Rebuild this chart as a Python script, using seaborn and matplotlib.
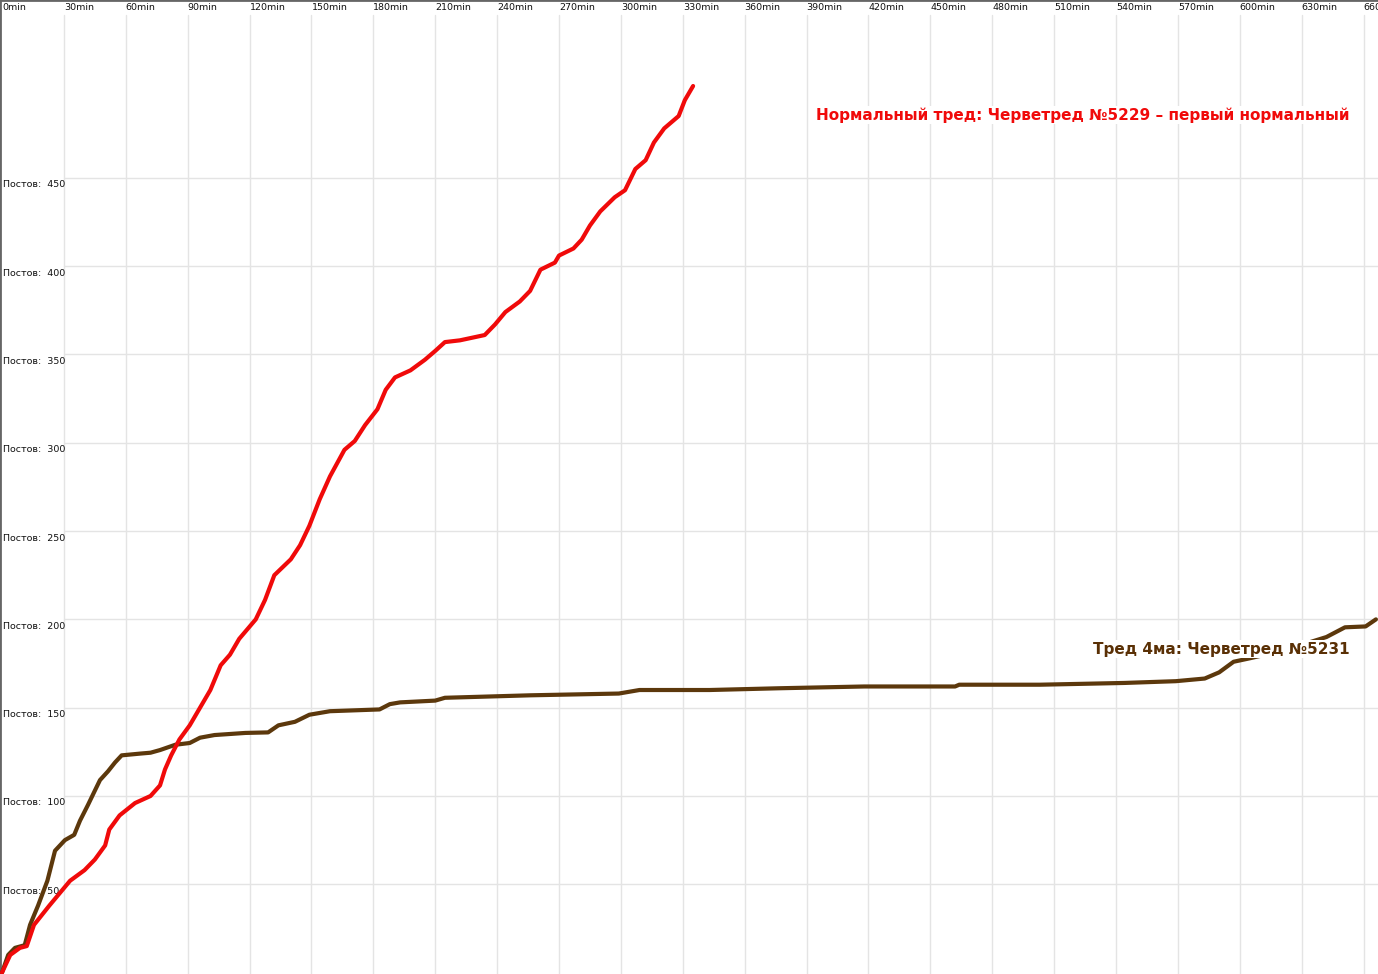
import matplotlib
matplotlib.use('Agg')
import matplotlib.pyplot as plt
import matplotlib.transforms as mtransforms
import pandas as pd
import seaborn as sns

# Thread 5229 (red): minutes since start vs. post count
red_min = [0, 4, 8.7, 12, 15.5, 23, 33, 40, 45, 50, 52, 57, 64.5, 72, 76.6, 79,
           82, 86, 91, 96, 101, 106, 110.5, 115, 123, 127.5, 132, 140, 144.5,
           149, 154, 159, 166, 171, 176, 182, 186, 190.5, 198, 205, 210, 214.7,
           222, 234, 239, 244, 251, 256, 261, 268, 270, 277, 281, 285, 290, 297,
           302, 307, 312, 316, 321, 328, 331, 335]
red_posts = [0, 10, 14, 15, 27, 38, 52, 58, 64, 72, 81, 89, 96, 100, 106, 115,
             123, 132, 140, 150, 160, 174, 180, 189, 200, 211, 225, 234, 242,
             253, 268, 281, 296, 301, 310, 319, 330, 337, 341, 347, 352, 357,
             358, 361, 367, 374, 380, 386, 398, 402, 406, 410, 415, 423, 431,
             439, 443, 455, 460, 470, 478, 485, 494, 502]

# Thread 5231 (brown)
brown_min = [0, 3, 6.3, 11, 13.6, 17.5, 22, 25.7, 30.5, 35, 37.8, 41.7, 45,
             47.5, 51.4, 54.8, 58, 67, 72, 76.6, 84, 91, 96, 103, 118, 129, 134,
             142, 149, 159, 183, 188, 193, 210, 214.7, 256, 299, 309, 343, 377,
             418, 462, 464, 503, 544, 569, 583, 590, 597, 605, 620, 642, 651,
             661, 666]
brown_posts = [0, 10, 14, 15.5, 27, 38, 52, 69, 75, 78, 86, 95, 103, 109, 114,
               119, 123, 124, 124.5, 126, 129, 130, 133, 134.5, 135.7, 136, 140,
               142, 146, 148, 149, 152, 153, 154, 155.6, 157, 158, 160, 160,
               161, 162, 162, 163, 163, 164, 165, 166.5, 170, 176, 178, 182,
               190, 195.5, 196, 200]

x_ticks = list(range(0, 690, 30))
y_ticks = list(range(50, 500, 50))

red_label = 'Нормальный тред: Черветред №5229 – первый нормальный'
brown_label = 'Тред 4ма: Черветред №5231'

red_color = '#f00a0a'
brown_color = '#5c380c'
grid_color = '#e4e4e4'

sns.set_style('white')
plt.rcParams['font.family'] = ['DejaVu Sans']

fig = plt.figure(figsize=(13.78, 9.74), dpi=100)
ax = fig.add_axes([0, 0, 1, 1])

red_df = pd.DataFrame({'min': red_min, 'posts': red_posts})
brown_df = pd.DataFrame({'min': brown_min, 'posts': brown_posts})

ax.set_xlim(-0.97, 667)
ax.set_ylim(-0.8, 550.7)

# grid lines (vertical ones start under the minute labels)
for t in x_ticks[1:]:
    ax.axvline(t, ymax=1 - 15 / 974, color=grid_color, lw=1, zorder=0)
for v in y_ticks:
    ax.axhline(v, xmin=64 / 1378, color=grid_color, lw=1, zorder=0)

sns.lineplot(data=brown_df, x='min', y='posts', color=brown_color,
             linewidth=3.0, ax=ax, zorder=3)
sns.lineplot(data=red_df, x='min', y='posts', color=red_color,
             linewidth=3.0, ax=ax, zorder=4)

ax.set_xticks([])
ax.set_yticks([])
ax.set_xlabel('')
ax.set_ylabel('')

for side in ['right', 'bottom']:
    ax.spines[side].set_visible(False)
for side in ['left', 'top']:
    ax.spines[side].set_color('#666666')
    ax.spines[side].set_linewidth(2)

# minute labels along the top
trans_x = mtransforms.blended_transform_factory(ax.transData, ax.transAxes)
for t in x_ticks:
    ax.annotate(f'{t}min', xy=(t, 1), xycoords=trans_x, xytext=(0, -8),
                textcoords='offset pixels', ha='left', va='center',
                fontsize=6.8, color='#111111', zorder=1)

# post labels along the left
trans_y = mtransforms.blended_transform_factory(ax.transAxes, ax.transData)
for v in y_ticks:
    ax.annotate(f'Постов:  {v}', xy=(0, v), xycoords=trans_y, xytext=(3, -7),
                textcoords='offset pixels', ha='left', va='center',
                fontsize=6.8, color='#111111', zorder=1)

ax.text(653.4, 485.6, red_label, color=red_color, fontsize=11,
        fontweight='bold', ha='right', va='center', zorder=5,
        bbox=dict(facecolor='white', edgecolor='none', pad=1))
ax.text(653.4, 183.2, brown_label, color='#5a3005', fontsize=11,
        fontweight='bold', ha='right', va='center', zorder=5,
        bbox=dict(facecolor='white', edgecolor='none', pad=1))

fig.savefig('out.png', dpi=100)
